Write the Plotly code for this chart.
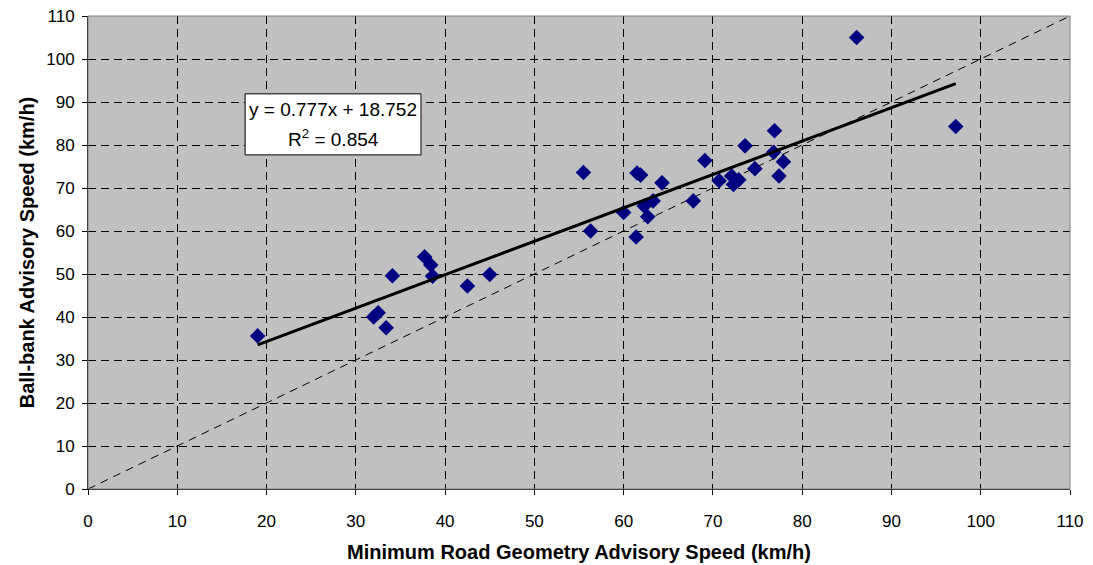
import plotly.graph_objects as go

# Curve advisory speeds (km/h): geometry-based minimum vs. ball-bank method
geometry_speed = [19.0, 32.0, 32.5, 33.4, 34.1, 37.7, 38.4, 38.6, 42.5, 45.0,
                  55.5, 56.3, 60.0, 61.4, 61.5, 61.9, 62.3, 62.7, 63.3, 64.3,
                  67.8, 69.1, 70.7, 72.1, 72.3, 72.9, 73.6, 74.7, 76.8, 76.9,
                  77.4, 77.9, 86.1, 97.2]
ballbank_speed = [35.6, 40.0, 41.0, 37.5, 49.6, 54.0, 52.1, 49.5, 47.2, 49.9,
                  73.6, 60.0, 64.3, 58.6, 73.5, 73.0, 65.8, 63.3, 67.0, 71.2,
                  67.0, 76.4, 71.7, 72.8, 70.8, 71.9, 79.8, 74.5, 78.3, 83.3,
                  72.8, 76.1, 105.0, 84.3]

# Linear fit as reported
slope = 0.777
intercept = 18.752
r_squared = 0.854

axis_ticks = list(range(0, 111, 10))
axis_max = 110

font_family = "Liberation Sans, Arial, sans-serif"

fit_x = [min(geometry_speed), max(geometry_speed)]
fit_y = [slope * v + intercept for v in fit_x]

fig = go.Figure()

# 1:1 reference line
fig.add_trace(go.Scatter(
    x=[0, axis_max], y=[0, axis_max], mode="lines",
    line=dict(color="black", width=1, dash="8px,6px"),
    hoverinfo="skip", showlegend=False,
))

fig.add_trace(go.Scatter(
    x=geometry_speed, y=ballbank_speed, mode="markers",
    marker=dict(symbol="diamond", size=12, color="#000080",
                line=dict(width=0)),
    showlegend=False,
))

fig.add_trace(go.Scatter(
    x=fit_x, y=fit_y, mode="lines",
    line=dict(color="black", width=3),
    hoverinfo="skip", showlegend=False,
))

grid_style = dict(showgrid=True, gridcolor="black", gridwidth=1,
                  griddash="8px,5px")

fig.update_xaxes(
    range=[0, axis_max], tickvals=axis_ticks, ticks="outside", ticklen=5,
    tickcolor="black", showline=True, linecolor="black", linewidth=1,
    zeroline=False, tickfont=dict(family=font_family, size=17, color="black"),
    ticklabelstandoff=12, automargin=False,
    title=dict(text="<b>Minimum Road Geometry Advisory Speed (km/h)</b>",
               font=dict(family=font_family, size=20, color="black"),
               standoff=14),
    **grid_style,
)
fig.update_yaxes(
    range=[0, axis_max], tickvals=axis_ticks, ticks="outside", ticklen=5,
    tickcolor="black", showline=True, linecolor="black", linewidth=1,
    zeroline=False, tickfont=dict(family=font_family, size=17, color="black"),
    ticklabelstandoff=4, automargin=False,
    title=dict(text="<b>Ball-bank Advisory Speed (km/h)</b>",
               font=dict(family=font_family, size=20, color="black"),
               standoff=6),
    **grid_style,
)

# Plot-area border and equation box
fig.add_shape(type="rect", xref="paper", yref="paper", x0=0, y0=0, x1=1, y1=1,
              line=dict(color="#808080", width=1), layer="above")
fig.add_shape(type="rect", xref="x", yref="y", x0=17.6, x1=37.3, y0=77.7, y1=91.9,
              fillcolor="white", line=dict(color="black", width=1), layer="above")
fig.add_annotation(x=27.45, y=88.3, xref="x", yref="y", showarrow=False,
                   text=f"y = {slope}x + {intercept}",
                   font=dict(family=font_family, size=19, color="black"))
fig.add_annotation(x=27.45, y=81.6, xref="x", yref="y", showarrow=False,
                   text=f"R<sup>2</sup> = {r_squared}",
                   font=dict(family=font_family, size=19, color="black"))

fig.update_layout(
    width=1093, height=565,
    margin=dict(l=88, r=23, t=16, b=76),
    paper_bgcolor="white", plot_bgcolor="#C0C0C0",
    font=dict(family=font_family, color="black"),
)

fig.write_html("out.html")
